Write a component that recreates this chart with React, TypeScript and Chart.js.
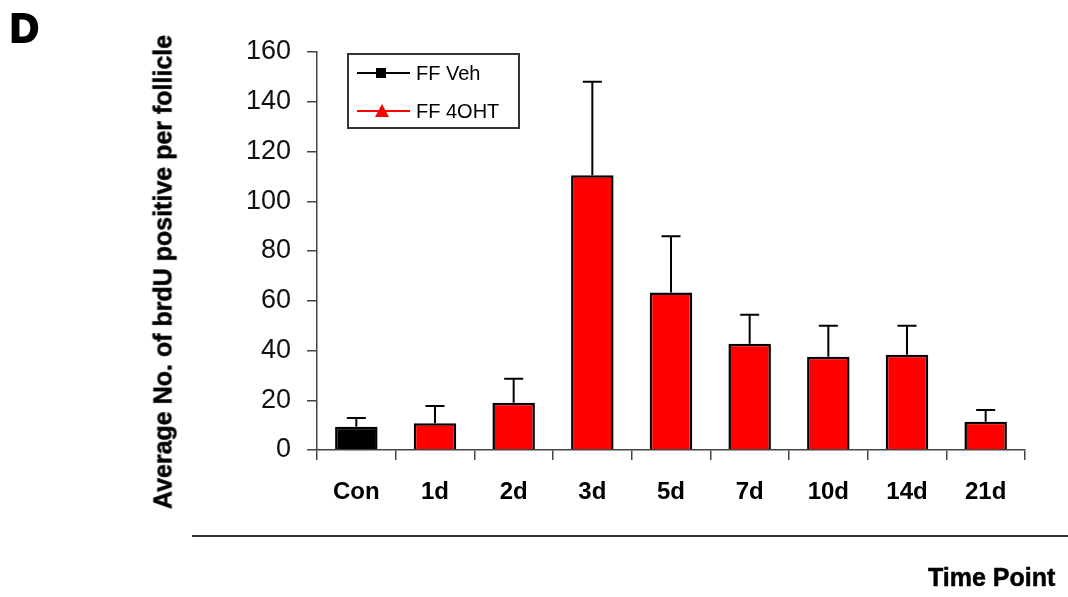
import React, { useEffect, useRef } from "react";
import { Chart, registerables } from "chart.js";

Chart.register(...registerables);

const categories = ["Con", "1d", "2d", "3d", "5d", "7d", "10d", "14d", "21d"];
const means = [9.3, 10.8, 19, 110.5, 63.3, 42.7, 37.5, 38.3, 11.4];
const errors = [3.6, 6.9, 9.6, 37.5, 22.6, 11.7, 12.5, 11.7, 4.7];
const barColors = ["#000000", "#ff0000", "#ff0000", "#ff0000", "#ff0000", "#ff0000", "#ff0000", "#ff0000", "#ff0000"];
const yTicks = [0, 20, 40, 60, 80, 100, 120, 140, 160];
const legendLabels = ["FF Veh", "FF 4OHT"];
const legendColors = ["#000000", "#ff0000"];

const FONT = "Arial, 'Liberation Sans', sans-serif";

const errorBarPlugin = {
  id: "errorBars",
  afterDatasetsDraw(chart: any) {
    const { ctx, scales } = chart;
    const meta = chart.getDatasetMeta(0);
    ctx.save();
    ctx.strokeStyle = "#000";
    ctx.lineWidth = 2;
    meta.data.forEach((bar: any, i: number) => {
      const x = bar.x;
      const yTop = scales.y.getPixelForValue(means[i] + errors[i]);
      const yBase = scales.y.getPixelForValue(means[i]);
      ctx.beginPath();
      ctx.moveTo(x, yBase);
      ctx.lineTo(x, yTop);
      ctx.moveTo(x - 9.5, yTop);
      ctx.lineTo(x + 9.5, yTop);
      ctx.stroke();
    });
    ctx.restore();
  },
};

const legendPlugin = {
  id: "customLegend",
  afterDraw(chart: any) {
    const { ctx } = chart;
    const bx = 348, by = 54, bw = 171, bh = 74;
    ctx.save();
    ctx.fillStyle = "#fff";
    ctx.fillRect(bx, by, bw, bh);
    ctx.strokeStyle = "#333";
    ctx.lineWidth = 2;
    ctx.strokeRect(bx, by, bw, bh);
    ctx.font = `20px ${FONT}`;
    ctx.textBaseline = "middle";
    legendLabels.forEach((lab, i) => {
      const y = by + 19 + i * 38;
      ctx.strokeStyle = legendColors[i];
      ctx.lineWidth = 2;
      ctx.beginPath();
      ctx.moveTo(bx + 9, y);
      ctx.lineTo(bx + 62, y);
      ctx.stroke();
      ctx.fillStyle = legendColors[i];
      if (i === 0) {
        ctx.fillRect(bx + 28, y - 5, 10, 10);
      } else {
        ctx.beginPath();
        ctx.moveTo(bx + 34, y - 7);
        ctx.lineTo(bx + 41, y + 6);
        ctx.lineTo(bx + 27, y + 6);
        ctx.closePath();
        ctx.fill();
      }
      ctx.fillStyle = "#000";
      ctx.fillText(lab, bx + 68, y + 1);
    });
    ctx.restore();
  },
};

export default function App() {
  const ref = useRef<HTMLCanvasElement>(null);
  useEffect(() => {
    document.body.style.margin = "0";
    const chart = new Chart(ref.current!, {
      type: "bar",
      data: {
        labels: categories,
        datasets: [
          {
            data: means,
            backgroundColor: barColors,
            borderColor: "#000",
            borderWidth: 2.5,
            categoryPercentage: 1,
            barPercentage: 0.54,
          },
        ],
      },
      options: {
        animation: false,
        responsive: false,
        maintainAspectRatio: false,
        layout: { padding: { top: 52, right: 43, left: 0, bottom: 0 } },
        plugins: { legend: { display: false }, tooltip: { enabled: false } },
        scales: {
          x: {
            offset: true,
            grid: { offset: true, drawOnChartArea: false, tickLength: 10, color: "#444", lineWidth: 1.5 },
            border: { color: "#444", width: 1.5 },
            ticks: { color: "#000", padding: 18, font: { family: FONT, size: 24, weight: "bold" } },
            afterFit: (s: any) => { s.height = 147; },
          },
          y: {
            min: 0,
            max: 160,
            afterBuildTicks: (s: any) => { s.ticks = yTicks.map((v) => ({ value: v })); },
            grid: { drawOnChartArea: false, tickLength: 10, color: "#444", lineWidth: 1.5 },
            border: { color: "#444", width: 1.5 },
            ticks: { color: "#111", padding: 16, font: { family: FONT, size: 27 } },
            afterFit: (s: any) => { s.width = 317; },
          },
        },
      },
      plugins: [errorBarPlugin, legendPlugin],
    });
    return () => chart.destroy();
  }, []);
  return (
    <div style={{ position: "relative", width: 1068, height: 597, background: "#fff", fontFamily: FONT }}>
      <canvas ref={ref} width={1068} height={597} style={{ position: "absolute", left: 0, top: 0 }} />
      <div style={{ position: "absolute", left: 10, top: 6, fontSize: 40, fontWeight: 900, lineHeight: "44px", WebkitTextStroke: "2px #000" }}>D</div>
      <div
        style={{
          position: "absolute",
          left: 163,
          top: 272,
          transform: "translate(-50%, -50%) rotate(-90deg)",
          whiteSpace: "nowrap",
          fontSize: 25,
          fontWeight: "bold",
          WebkitTextStroke: "0.5px #000",
        }}
      >
        Average No. of brdU positive per follicle
      </div>
      <div style={{ position: "absolute", left: 192, top: 535, width: 876, height: 2, background: "#333" }} />
      <div style={{ position: "absolute", left: 928, top: 563, fontSize: 25, fontWeight: "bold", WebkitTextStroke: "0.5px #000" }}>Time Point</div>
    </div>
  );
}
